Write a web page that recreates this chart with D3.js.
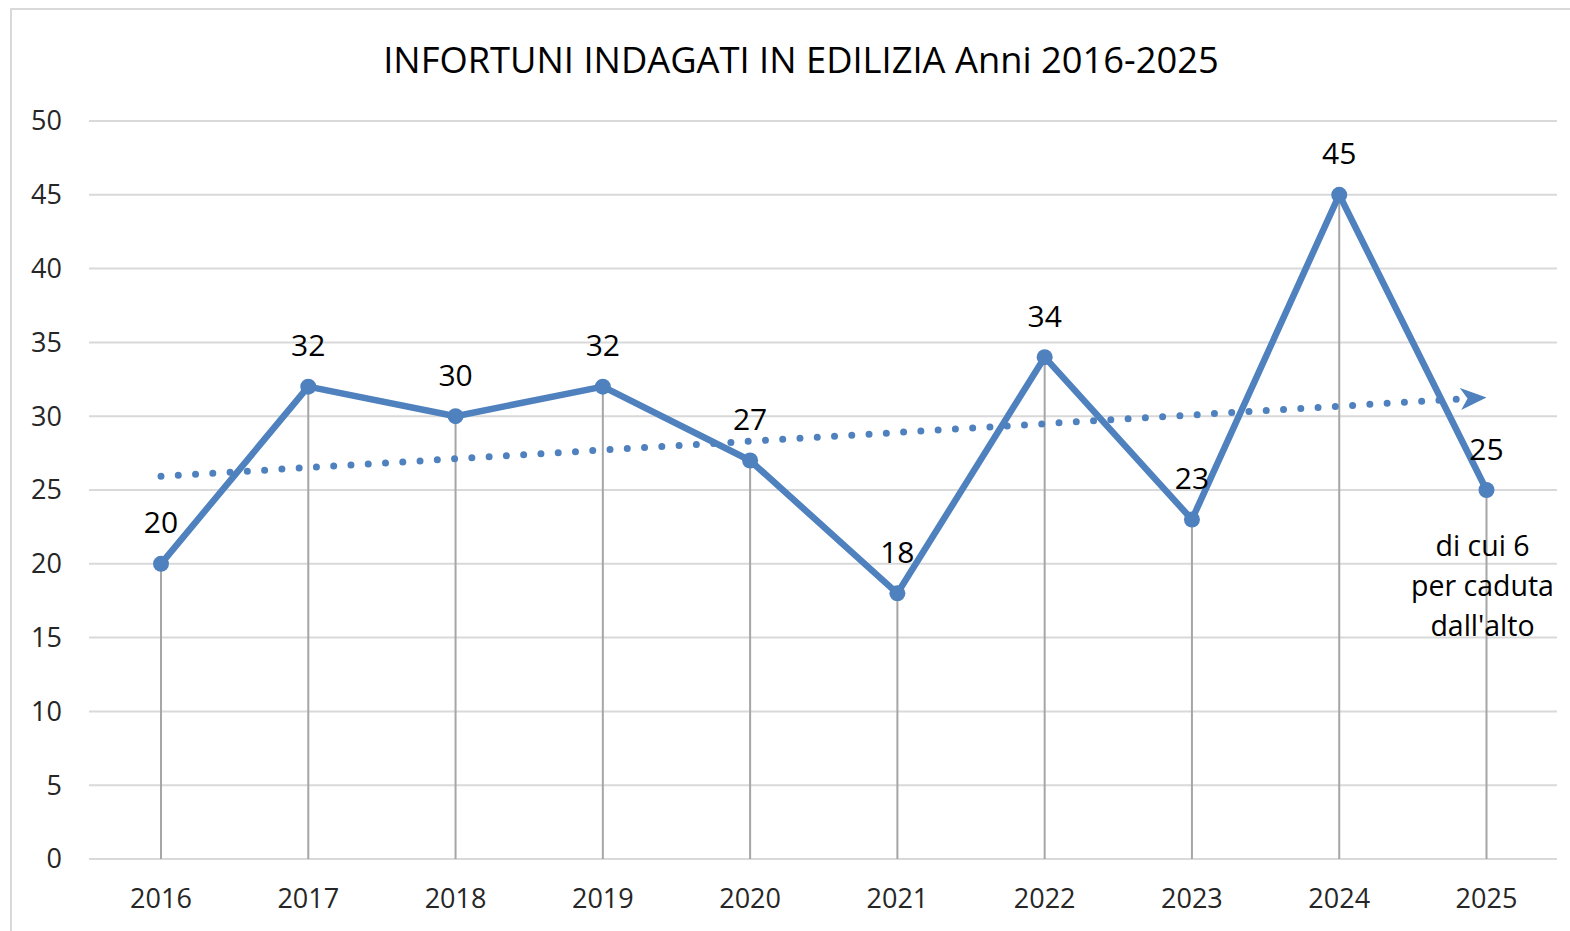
<!DOCTYPE html>
<html>
<head>
<meta charset="utf-8">
<script src="https://cdn.jsdelivr.net/npm/d3@7"></script>
<style>
  body { margin: 0; background: #fff; }
  svg { display: block; font-family: "Open Sans", sans-serif; }
</style>
</head>
<body>
<svg id="chart" width="1570" height="931"></svg>
<script>
'use strict';

const years = ["2016", "2017", "2018", "2019", "2020", "2021", "2022", "2023", "2024", "2025"];
const infortuni = [20, 32, 30, 32, 27, 18, 34, 23, 45, 25];
const yTicks = [0, 5, 10, 15, 20, 25, 30, 35, 40, 45, 50];
const titleText = "INFORTUNI INDAGATI IN EDILIZIA Anni 2016-2025";
const noteLines = ["di cui 6", "per caduta", "dall'alto"];

const blue = "#4e81bd";
const svg = d3.select("#chart");

// frame
svg.append("rect")
  .attr("x", 11).attr("y", 9)
  .attr("width", 1600).attr("height", 1000)
  .attr("fill", "none")
  .attr("stroke", "#d9d9d9")
  .attr("stroke-width", 2);

const x = d3.scalePoint().domain(years).range([161, 1486.5]);
const y = d3.scaleLinear().domain([0, 50]).range([859, 121]);

// gridlines
svg.append("g")
  .selectAll("line")
  .data(yTicks)
  .enter()
  .append("line")
  .attr("x1", 89).attr("x2", 1557)
  .attr("y1", d => y(d)).attr("y2", d => y(d))
  .attr("stroke", "#d9d9d9")
  .attr("stroke-width", 2);

// y labels
svg.append("g")
  .selectAll("text")
  .data(yTicks)
  .enter()
  .append("text")
  .attr("x", 62)
  .attr("y", d => y(d))
  .attr("dy", "0.35em")
  .attr("text-anchor", "end")
  .attr("font-size", 27)
  .attr("fill", "#262626")
  .text(d => d);

// x labels
svg.append("g")
  .selectAll("text")
  .data(years)
  .enter()
  .append("text")
  .attr("x", d => x(d))
  .attr("y", 899)
  .attr("dy", "0.35em")
  .attr("text-anchor", "middle")
  .attr("font-size", 27)
  .attr("fill", "#262626")
  .text(d => d);

// drop lines
svg.append("g")
  .selectAll("line")
  .data(years)
  .enter()
  .append("line")
  .attr("x1", d => x(d)).attr("x2", d => x(d))
  .attr("y1", (d, i) => y(infortuni[i]))
  .attr("y2", y(0))
  .attr("stroke", "#a6a6a6")
  .attr("stroke-width", 2);

// linear trendline (least squares, like the spreadsheet one)
const idx = years.map((d, i) => i);
const mx = d3.mean(idx), my = d3.mean(infortuni);
const slope = d3.sum(idx, i => (i - mx) * (infortuni[i] - my)) / d3.sum(idx, i => (i - mx) ** 2);
const intercept = my - slope * mx;
const trendAt = i => intercept + slope * i;

svg.append("defs").append("marker")
  .attr("id", "arrow")
  .attr("viewBox", "0 0 26 22")
  .attr("refX", 26).attr("refY", 11)
  .attr("markerWidth", 26).attr("markerHeight", 22)
  .attr("markerUnits", "userSpaceOnUse")
  .attr("orient", "auto")
  .append("path")
  .attr("d", "M0,0 L26,11 L0,22 L7,11 Z")
  .attr("fill", blue);

const last = years.length - 1;
const x0 = x(years[0]), y0 = y(trendAt(0));
const x1 = x(years[last]), y1 = y(trendAt(last));
const len = Math.hypot(x1 - x0, y1 - y0);
const cut = 22;
svg.append("line")
  .attr("x1", x0).attr("y1", y0)
  .attr("x2", x1 - (x1 - x0) / len * cut)
  .attr("y2", y1 - (y1 - y0) / len * cut)
  .attr("stroke", blue)
  .attr("stroke-width", 7)
  .attr("stroke-linecap", "round")
  .attr("stroke-dasharray", "0 17.3");

svg.append("line")
  .attr("x1", x1 - (x1 - x0) / len * 26).attr("y1", y1 - (y1 - y0) / len * 26)
  .attr("x2", x1).attr("y2", y1)
  .attr("stroke", "none")
  .attr("marker-end", "url(#arrow)");

// main line
const line = d3.line()
  .x((d, i) => x(years[i]))
  .y(d => y(d));

svg.append("path")
  .datum(infortuni)
  .attr("d", line)
  .attr("fill", "none")
  .attr("stroke", blue)
  .attr("stroke-width", 6.5)
  .attr("stroke-linejoin", "round");

svg.append("g")
  .selectAll("circle")
  .data(infortuni)
  .enter()
  .append("circle")
  .attr("cx", (d, i) => x(years[i]))
  .attr("cy", d => y(d))
  .attr("r", 8)
  .attr("fill", blue);

// value labels
svg.append("g")
  .selectAll("text")
  .data(infortuni)
  .enter()
  .append("text")
  .attr("x", (d, i) => x(years[i]))
  .attr("y", d => y(d) - 41)
  .attr("dy", "0.35em")
  .attr("text-anchor", "middle")
  .attr("font-size", 30)
  .attr("fill", "#000")
  .text(d => d);

// note under 2025
svg.append("g")
  .selectAll("text")
  .data(noteLines)
  .enter()
  .append("text")
  .attr("x", x(years[last]) - 4)
  .attr("y", (d, i) => 546 + i * 40)
  .attr("dy", "0.35em")
  .attr("text-anchor", "middle")
  .attr("font-size", 28.5)
  .attr("fill", "#000")
  .text(d => d);

// title
svg.append("text")
  .attr("x", 801)
  .attr("y", 60)
  .attr("dy", "0.35em")
  .attr("text-anchor", "middle")
  .attr("font-size", 36.3)
  .attr("fill", "#000")
  .text(titleText);
</script>
</body>
</html>
